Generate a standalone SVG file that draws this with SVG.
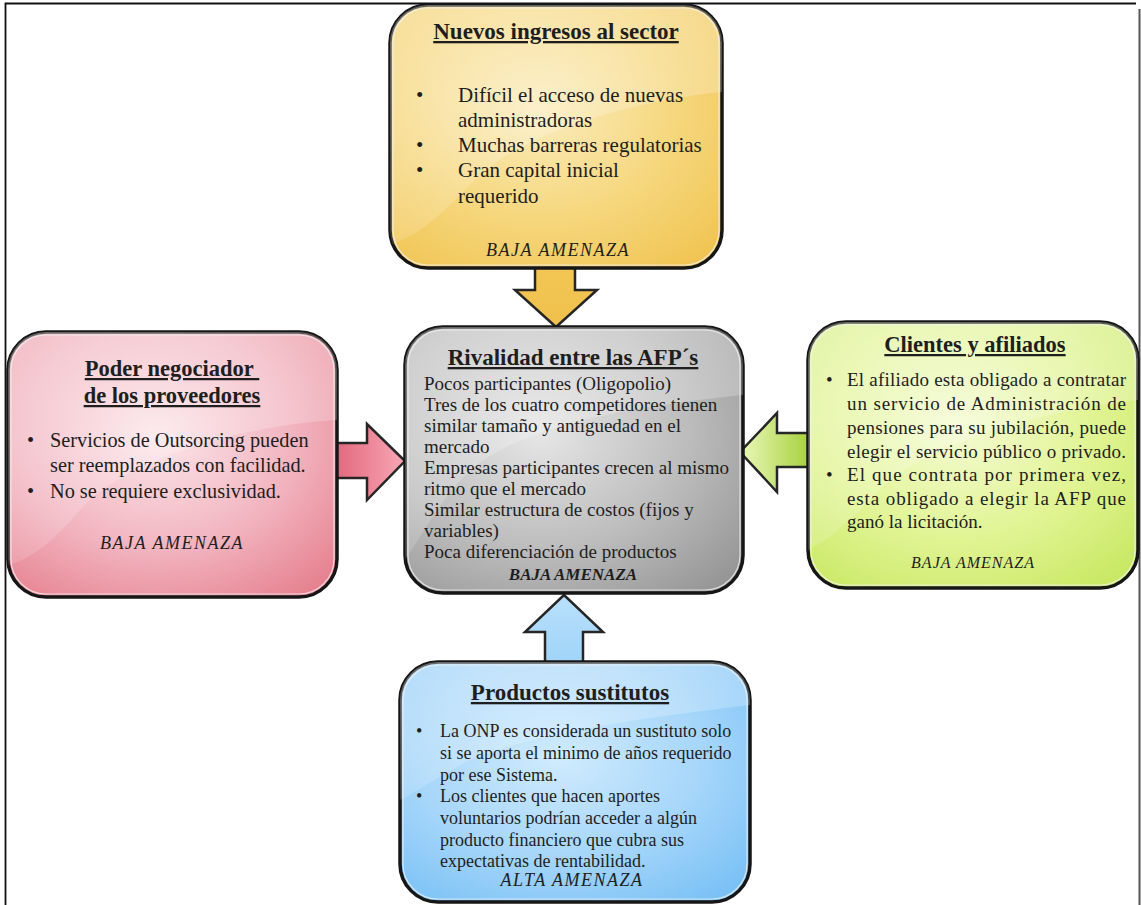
<svg xmlns="http://www.w3.org/2000/svg" width="1141" height="905" viewBox="0 0 1141 905">
<style>
.t{font-family:"Liberation Serif","Times New Roman",serif;fill:#1e1e1e}
.title{font-weight:bold;text-decoration:underline;text-anchor:middle}
.it{font-style:italic;text-anchor:middle;letter-spacing:1.5px}
.box{stroke:#161616;stroke-width:3.5}
.inner{fill:none;stroke:#f2f2f2;stroke-width:1.2;opacity:.75}
.gloss{fill:url(#gloss)}
.arrow{stroke:#262626;stroke-width:2.5;stroke-linejoin:miter}
</style>
<defs>
<linearGradient id="gloss" x1="0" y1="0" x2="0.3" y2="1">
<stop offset="0" stop-color="#fff" stop-opacity="0.35"/>
<stop offset="1" stop-color="#fff" stop-opacity="0.12"/>
</linearGradient>
<radialGradient id="gY" cx="0.45" cy="0.4" r="0.75">
<stop offset="0" stop-color="#fbecbd"/>
<stop offset="0.55" stop-color="#f6d77d"/>
<stop offset="1" stop-color="#f0c452"/>
</radialGradient>
<radialGradient id="gP" cx="0.45" cy="0.4" r="0.75">
<stop offset="0" stop-color="#fce6ea"/>
<stop offset="0.55" stop-color="#f2b5c0"/>
<stop offset="1" stop-color="#e6808f"/>
</radialGradient>
<radialGradient id="gG" cx="0.4" cy="0.4" r="0.8">
<stop offset="0" stop-color="#e6e6e6"/>
<stop offset="0.55" stop-color="#bcbcbc"/>
<stop offset="1" stop-color="#939393"/>
</radialGradient>
<radialGradient id="gL" cx="0.45" cy="0.4" r="0.75">
<stop offset="0" stop-color="#f4fbd2"/>
<stop offset="0.55" stop-color="#e1f494"/>
<stop offset="1" stop-color="#c8e862"/>
</radialGradient>
<radialGradient id="gB" cx="0.45" cy="0.4" r="0.75">
<stop offset="0" stop-color="#d0ebfd"/>
<stop offset="0.55" stop-color="#a6d6fa"/>
<stop offset="1" stop-color="#78c0f5"/>
</radialGradient>
<linearGradient id="aY" x1="0" y1="0" x2="0" y2="1">
<stop offset="0" stop-color="#f3c655"/>
<stop offset="1" stop-color="#f0c04c"/>
</linearGradient>
<linearGradient id="aP" x1="0" y1="0" x2="1" y2="0">
<stop offset="0" stop-color="#e3677d"/>
<stop offset="1" stop-color="#f7a8b5"/>
</linearGradient>
<linearGradient id="aG" x1="0" y1="0" x2="1" y2="0">
<stop offset="0" stop-color="#eaf8bb"/>
<stop offset="1" stop-color="#a6d13c"/>
</linearGradient>
<linearGradient id="aB" x1="0" y1="1" x2="0" y2="0">
<stop offset="0" stop-color="#9fd4f9"/>
<stop offset="1" stop-color="#b9e0fb"/>
</linearGradient>
<clipPath id="cTop"><rect x="390" y="5" width="332" height="263" rx="38"/></clipPath>
<clipPath id="cLeft"><rect x="8" y="332" width="329" height="265" rx="38"/></clipPath>
<clipPath id="cCenter"><rect x="405" y="327" width="338" height="266" rx="38"/></clipPath>
<clipPath id="cRight"><rect x="808" y="322" width="330" height="266" rx="38"/></clipPath>
<clipPath id="cBottom"><rect x="400" y="662" width="350" height="240" rx="38"/></clipPath>
</defs>

<rect x="0" y="0" width="1141" height="905" fill="#ffffff"/>
<g id="frame">
<path d="M5.5,905 V3.5 H1136" fill="none" stroke="#111" stroke-width="1.8"/>
<path d="M1139.5,9 V905" fill="none" stroke="#555" stroke-width="2"/>
</g>

<g id="connectors">
<path class="arrow" fill="url(#aY)" d="M535,266 L575,266 L575,290 L597,290 L556,327 L515,290 L535,290 Z"/>
<path class="arrow" fill="url(#aP)" d="M335,443 L367,443 L367,424 L405,461 L367,500 L367,478 L335,478 Z"/>
<path class="arrow" fill="url(#aG)" d="M810,433 L777,433 L777,413 L740,452 L777,492 L777,467 L810,467 Z"/>
<path class="arrow" fill="url(#aB)" d="M545,664 L583,664 L583,632 L603,632 L564,595 L525,632 L545,632 Z"/>
</g>

<g id="node-nuevos">
<rect class="box" x="390" y="5" width="332" height="263" rx="38" fill="url(#gY)"/>
<path class="gloss" clip-path="url(#cTop)" d="M390,5 H722 V92 C640,100 520,130 470,185 C440,215 420,235 390,245 Z"/>
<rect class="inner" x="393" y="8" width="326" height="257" rx="35"/>
<text class="t title" x="556" y="39" font-size="23">Nuevos ingresos al sector</text>
<g class="t" font-size="21">
<text x="416" y="102">•</text><text x="458" y="102">Difícil el acceso de nuevas</text>
<text x="458" y="127">administradoras</text>
<text x="416" y="152">•</text><text x="458" y="152">Muchas barreras regulatorias</text>
<text x="416" y="177">•</text><text x="458" y="177">Gran capital inicial</text>
<text x="458" y="203">requerido</text>
</g>
<text class="t it" x="558" y="256" font-size="18">BAJA AMENAZA</text>
</g>

<g id="node-proveedores">
<rect class="box" x="8" y="332" width="329" height="265" rx="38" fill="url(#gP)"/>
<path class="gloss" clip-path="url(#cLeft)" d="M8,332 H337 V420 C250,425 130,455 80,510 C55,540 30,560 8,565 Z"/>
<rect class="inner" x="11" y="335" width="323" height="259" rx="35"/>
<text class="t title" x="172" y="376" font-size="22.5">Poder negociador&#160;</text>
<text class="t title" x="172" y="403" font-size="22.5">de los proveedores</text>
<g class="t" font-size="20.3">
<text x="27" y="447">•</text><text x="50" y="447">Servicios de Outsorcing pueden</text>
<text x="50" y="472">ser reemplazados con facilidad.</text>
<text x="27" y="498">•</text><text x="50" y="498">No se requiere exclusividad.</text>
</g>
<text class="t it" x="172" y="549" font-size="18">BAJA AMENAZA</text>
</g>

<g id="node-rivalidad">
<rect class="box" x="405" y="327" width="338" height="266" rx="38" fill="url(#gG)"/>
<path class="gloss" clip-path="url(#cCenter)" d="M405,327 H743 V395 C650,405 530,420 470,470 C440,500 425,530 405,560 Z"/>
<rect class="inner" x="408" y="330" width="332" height="260" rx="35"/>
<text class="t title" x="573" y="365" font-size="23">Rivalidad entre las AFP´s</text>
<g class="t" font-size="19">
<text x="424" y="390">Pocos participantes (Oligopolio)</text>
<text x="424" y="411">Tres de los cuatro competidores tienen</text>
<text x="424" y="432">similar  tamaño y antiguedad en el</text>
<text x="424" y="453">mercado</text>
<text x="424" y="474">Empresas participantes crecen al mismo</text>
<text x="424" y="495">ritmo que el mercado</text>
<text x="424" y="516">Similar  estructura de costos (fijos y</text>
<text x="424" y="537">variables)</text>
<text x="424" y="558">Poca diferenciación de productos</text>
</g>
<text class="t" x="573" y="580" font-size="17" font-weight="bold" font-style="italic" text-anchor="middle">BAJA AMENAZA</text>
</g>

<g id="node-clientes">
<rect class="box" x="808" y="322" width="330" height="266" rx="38" fill="url(#gL)"/>
<path class="gloss" clip-path="url(#cRight)" d="M808,322 H1138 V400 C1050,410 930,440 880,490 C855,515 830,540 808,550 Z"/>
<rect class="inner" x="811" y="325" width="324" height="260" rx="35"/>
<text class="t title" x="975" y="352" font-size="22.5">Clientes y afiliados</text>
<g class="t" font-size="19">
<text x="826" y="386">•</text><text x="847" y="386" textLength="279" lengthAdjust="spacing">El afiliado esta obligado a contratar</text>
<text x="847" y="410" textLength="279" lengthAdjust="spacing">un servicio de Administración de</text>
<text x="847" y="434" textLength="279" lengthAdjust="spacing">pensiones para su jubilación, puede</text>
<text x="847" y="458" textLength="279" lengthAdjust="spacing">elegir el servicio público o privado.</text>
<text x="826" y="481">•</text><text x="847" y="481" textLength="279" lengthAdjust="spacing">El que contrata por primera vez,</text>
<text x="847" y="505" textLength="279" lengthAdjust="spacing">esta obligado a elegir la AFP que</text>
<text x="847" y="528">ganó la licitación.</text>
</g>
<text class="t it" x="973" y="568" font-size="16" style="letter-spacing:1px">BAJA AMENAZA</text>
</g>

<g id="node-sustitutos">
<rect class="box" x="400" y="662" width="350" height="240" rx="38" fill="url(#gB)"/>
<path class="gloss" clip-path="url(#cBottom)" d="M400,662 H750 V705 C670,715 540,730 470,760 C440,775 420,790 400,800 Z"/>
<rect class="inner" x="403" y="665" width="344" height="234" rx="35"/>
<text class="t title" x="570" y="700" font-size="23">Productos sustitutos</text>
<g class="t" font-size="18">
<text x="416" y="737">•</text><text x="440" y="737">La ONP es considerada un sustituto solo</text>
<text x="440" y="759">si se aporta el minimo  de años requerido</text>
<text x="440" y="781">por ese Sistema.</text>
<text x="416" y="802">•</text><text x="440" y="802">Los clientes que hacen aportes</text>
<text x="440" y="824">voluntarios podrían acceder a algún</text>
<text x="440" y="846">producto financiero que cubra sus</text>
<text x="440" y="867">expectativas de rentabilidad.</text>
</g>
<text class="t it" x="572" y="886" font-size="18">ALTA AMENAZA</text>
</g>
</svg>
